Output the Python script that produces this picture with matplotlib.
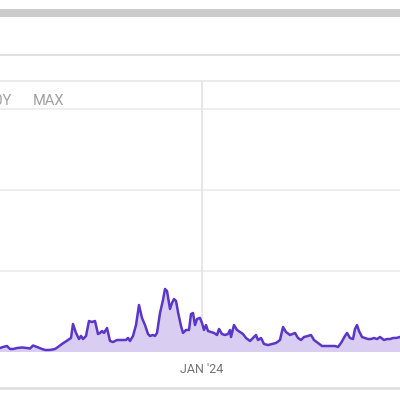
import numpy as np
import matplotlib
matplotlib.use("Agg")
import matplotlib.pyplot as plt
import matplotlib.dates as mdates
from matplotlib.lines import Line2D
from matplotlib.patches import Rectangle

# day offsets relative to 2024-01-01 and values
day_offsets = [-202, -199, -195, -192, -189, -185, -180, -175, -172, -169, -165, -160, -157, -152,
               -147, -144, -140, -137, -134, -131, -129, -126, -123, -121, -119, -116, -113, -110,
               -107, -104, -102, -100, -98, -95, -92, -89, -85, -80, -76, -74, -72, -69, -66, -63,
               -60, -57, -54, -52, -49, -47, -45, -42, -39, -37, -35, -32, -30, -28, -26, -24, -21,
               -19, -16, -13, -11, -9, -7, -5, -2, 0, 2, 4, 6, 9, 12, 15, 17, 20, 23, 26, 28, 29,
               32, 35, 38, 41, 44, 48, 51, 54, 56, 59, 62, 66, 70, 74, 78, 81, 84, 88, 93, 96, 99,
               102, 106, 109, 112, 116, 120, 125, 129, 133, 136, 139, 143, 145, 148, 151, 153, 155,
               157, 160, 163, 166, 169, 172, 175, 178, 182, 185, 188, 191, 194, 198]
values = [0.49, 0.62, 0.74, 0.37, 0.37, 0.49, 0.56, 0.49, 0.43, 0.80, 0.62, 0.37, 0.25, 0.25,
          0.37, 0.62, 0.99, 1.23, 1.48, 1.73, 3.46, 2.35, 1.60, 1.98, 1.60, 1.98, 3.83, 3.70,
          3.83, 2.22, 2.35, 2.59, 2.35, 2.96, 1.36, 1.23, 1.48, 1.48, 1.48, 1.73, 1.36, 1.98, 3.33,
          5.80, 4.20, 3.33, 2.22, 1.98, 2.10, 1.98, 2.35, 4.81, 6.42, 7.78, 7.53, 5.31, 6.05, 6.54,
          6.30, 4.94, 3.21, 2.35, 2.72, 2.72, 4.69, 4.81, 3.33, 4.07, 4.20, 3.58, 2.72, 3.33, 2.59,
          2.47, 2.35, 2.10, 2.84, 2.22, 2.10, 2.22, 2.72, 1.85, 3.33, 2.72, 2.47, 2.22, 1.73, 1.36,
          1.73, 2.10, 1.48, 1.73, 0.99, 0.86, 0.99, 1.11, 1.48, 3.09, 2.47, 2.10, 2.35, 1.73, 1.48,
          1.85, 1.98, 2.10, 1.48, 1.11, 0.74, 0.74, 0.74, 0.74, 0.62, 1.11, 1.98, 2.35, 1.73, 1.60,
          2.84, 3.33, 2.59, 1.85, 1.73, 1.60, 1.60, 1.73, 1.60, 1.85, 1.48, 1.60, 1.60, 1.73, 1.73,
          1.85]
range_labels = ["10Y", "MAX"]
x_tick_label = "JAN '24"

base = np.datetime64("2024-01-01")
dates = base + np.array(day_offsets).astype("timedelta64[D]")

W = H = 400
fig = plt.figure(figsize=(4, 4), dpi=100)
fig.patch.set_facecolor("white")

def fy(p):
    return 1 - p / H

# top grey bar
fig.add_artist(Rectangle((0, fy(16.5)), 1, 7.5 / H, transform=fig.transFigure,
                         facecolor="#cbcbcb", edgecolor="none"))
# separators
fig.add_artist(Line2D([0, 1], [fy(54.5)] * 2, transform=fig.transFigure, color="#dcdcdc", lw=1.2))
fig.add_artist(Line2D([0, 1], [fy(388)] * 2, transform=fig.transFigure, color="#dddddd", lw=1.8))

# range buttons
fig.text(12 / W, fy(101), range_labels[0], ha="right", va="center", fontsize=10.5,
         family="Roboto", color="#a0a0a0")
fig.text(33 / W, fy(101), range_labels[1], ha="left", va="center", fontsize=10.5,
         family="Roboto", color="#a0a0a0")

ax = fig.add_axes([0, fy(352), 1, (352 - 81) / H])
ax.set_facecolor("none")
ymax = 271 / 8.1
ax.set_ylim(0, ymax)
ax.set_xlim(base - np.timedelta64(202, "D"), base + np.timedelta64(198, "D"))

for yv in [10, 20, 30]:
    ax.axhline(yv, color="#ebebeb", lw=1.2, zorder=0)
ax.axvline(base, color="#e3e3e3", lw=1.2, zorder=0)

ax.fill_between(dates, values, 0, color="#d9cef1", lw=0, zorder=1)
ax.plot(dates, values, color="#5a36c9", lw=1.8, zorder=2, solid_joinstyle="round")

for s in ["left", "right", "bottom"]:
    ax.spines[s].set_visible(False)
ax.spines["top"].set_color("#e8e8e8")
ax.spines["top"].set_linewidth(1.2)

ax.set_yticks([])
ax.set_xticks([base])
ax.set_xticklabels([x_tick_label], fontsize=9, family="Roboto", color="#757575")
ax.tick_params(axis="x", length=0, pad=8)

fig.savefig("out.png", dpi=100)
